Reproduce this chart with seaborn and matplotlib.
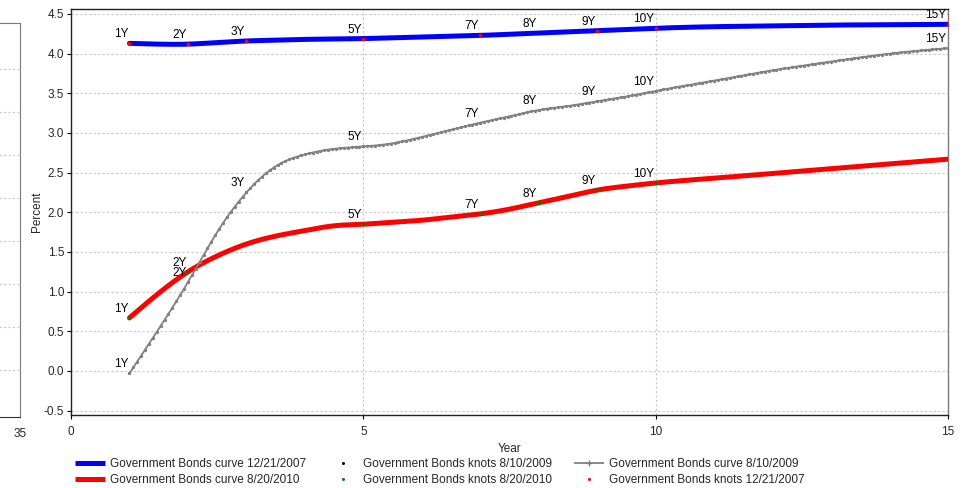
import numpy as np
import pandas as pd
import matplotlib
matplotlib.use("Agg")
import matplotlib.pyplot as plt
from matplotlib.lines import Line2D
import seaborn as sns

# ---- knot data (tenor in years, rate in percent) ----
knot_tenors_2007 = [1, 2, 3, 5, 7, 9, 10, 15]
knot_rates_2007 = [4.13, 4.12, 4.16, 4.19, 4.23, 4.29, 4.32, 4.37]
label_tenors_2007 = [1, 2, 3, 5, 7, 8, 9, 10, 15]
label_rates_2007 = [4.13, 4.12, 4.16, 4.19, 4.23, 4.26, 4.29, 4.32, 4.37]

knot_tenors_2009 = [1, 2, 3, 5, 7, 8, 9, 10, 15]
knot_rates_2009 = [-0.03, 1.12, 2.25, 2.83, 3.13, 3.29, 3.40, 3.53, 4.07]

knot_tenors_2010 = [1, 2, 5, 7, 8, 9, 10]
knot_rates_2010 = [0.67, 1.25, 1.85, 1.98, 2.12, 2.28, 2.37]

# ---- fitted curves sampled along the tenor axis ----
curve_years = [1, 1.5, 2, 2.5, 3, 3.5, 4, 4.5, 5, 5.5, 6, 6.5, 7, 7.5, 8,
               8.5, 9, 9.5, 10, 11, 12, 13, 14, 15]
curve_2007 = [4.13, 4.12, 4.12, 4.14, 4.16, 4.17, 4.18, 4.185, 4.19, 4.20,
              4.21, 4.22, 4.23, 4.245, 4.26, 4.275, 4.29, 4.305, 4.32, 4.34,
              4.35, 4.36, 4.365, 4.37]
curve_2009 = [-0.03, 0.53, 1.12, 1.75, 2.25, 2.58, 2.73, 2.80, 2.83, 2.87,
              2.95, 3.04, 3.13, 3.21, 3.29, 3.34, 3.40, 3.46, 3.53, 3.66,
              3.79, 3.90, 4.00, 4.07]
curve_2010 = [0.67, 0.98, 1.25, 1.45, 1.60, 1.70, 1.77, 1.83, 1.85, 1.875,
              1.90, 1.94, 1.98, 2.04, 2.12, 2.20, 2.28, 2.33, 2.37, 2.43,
              2.49, 2.55, 2.61, 2.67]

y_ticks = [-0.5, 0.0, 0.5, 1.0, 1.5, 2.0, 2.5, 3.0, 3.5, 4.0, 4.5]
x_ticks = [0, 5, 10, 15]


def natural_spline(x, y, xs):
    """Smooth natural cubic spline through (x, y), evaluated at xs."""
    x = np.asarray(x, float)
    y = np.asarray(y, float)
    n = len(x)
    h = np.diff(x)
    A = np.zeros((n, n))
    b = np.zeros(n)
    A[0, 0] = A[-1, -1] = 1.0
    for i in range(1, n - 1):
        A[i, i - 1] = h[i - 1]
        A[i, i] = 2 * (h[i - 1] + h[i])
        A[i, i + 1] = h[i]
        b[i] = 6 * ((y[i + 1] - y[i]) / h[i] - (y[i] - y[i - 1]) / h[i - 1])
    m = np.linalg.solve(A, b)
    idx = np.clip(np.searchsorted(x, xs) - 1, 0, n - 2)
    x0, x1 = x[idx], x[idx + 1]
    hh = x1 - x0
    t0, t1 = x1 - xs, xs - x0
    return (m[idx] * t0 ** 3 / (6 * hh) + m[idx + 1] * t1 ** 3 / (6 * hh)
            + (y[idx] / hh - m[idx] * hh / 6) * t0
            + (y[idx + 1] / hh - m[idx + 1] * hh / 6) * t1)


sns.set_style("white")
plt.rcParams["font.family"] = ["Liberation Sans", "DejaVu Sans"]
plt.rcParams["font.size"] = 8.5

fig = plt.figure(figsize=(9.65, 4.88), dpi=100)

# partial neighbouring panel on the far left
ax_side = fig.add_axes([-0.12, 0.1455, 0.1407, 0.8074])
ax_side.set_xlim(0, 35)
ax_side.set_ylim(0, 1)
ax_side.set_xticks([35])
ax_side.set_xticklabels(["35"])
ax_side.set_yticks(np.linspace(0.119, 0.882, 8))
ax_side.set_yticklabels([])
ax_side.tick_params(axis="y", length=0)
ax_side.tick_params(axis="x", length=3, width=0.8, color="#404040", pad=5,
                    labelsize=8.5)
ax_side.grid(axis="y", color="#c8c8c8", linestyle=(0, (2, 2)), linewidth=0.8)
for side in ("top", "right"):
    ax_side.spines[side].set_color("#7a7a7a")
ax_side.spines["bottom"].set_color("#303030")
ax_side.spines["left"].set_visible(False)

# main curve panel
ax = fig.add_axes([71 / 965, 1 - 415 / 488, 877 / 965, 406 / 488])

dense = np.linspace(1, 15, 600)
marker_grid = np.arange(1, 15.0001, 1 / 15)

df_2007 = pd.DataFrame({"Year": dense,
                        "Percent": natural_spline(curve_years, curve_2007, dense)})
df_2010 = pd.DataFrame({"Year": dense,
                        "Percent": natural_spline(curve_years, curve_2010, dense)})
df_2009 = pd.DataFrame({"Year": marker_grid,
                        "Percent": natural_spline(curve_years, curve_2009, marker_grid)})

sns.lineplot(data=df_2010, x="Year", y="Percent", ax=ax, color="#ff0000",
             linewidth=3.6, zorder=3)
# 8/10/2009 knots sit beneath the beaded curve
sns.scatterplot(x=knot_tenors_2009, y=knot_rates_2009, ax=ax, color="black",
                s=4, linewidth=0, zorder=3.5)
sns.lineplot(data=df_2009, x="Year", y="Percent", ax=ax, color="#808080",
             linewidth=1.3, marker="o", markersize=2.4, markeredgewidth=0,
             zorder=4)
sns.lineplot(data=df_2007, x="Year", y="Percent", ax=ax, color="#0000ff",
             linewidth=3.6, zorder=3)

# knot markers
sns.scatterplot(x=knot_tenors_2010, y=knot_rates_2010, ax=ax, color="#008000",
                s=7, linewidth=0, zorder=5)
sns.scatterplot(x=knot_tenors_2007, y=knot_rates_2007, ax=ax, color="#ff0000",
                s=7, linewidth=0, zorder=5)

# tenor labels
for tenors, rates in ((label_tenors_2007, label_rates_2007),
                      (knot_tenors_2009, knot_rates_2009),
                      (knot_tenors_2010, knot_rates_2010)):
    for t, r in zip(tenors, rates):
        ax.annotate(f"{t}Y", (t, r), xytext=(-1.0, 2.2),
                    textcoords="offset points", ha="right", va="bottom",
                    fontsize=8.5, color="black", zorder=6)

ax.set_xlim(0, 15)
ax.set_ylim(-0.555, 4.563)
ax.set_xticks(x_ticks)
ax.set_xticklabels([str(v) for v in x_ticks])
ax.set_yticks(y_ticks)
ax.set_yticklabels([f"{v:.1f}" for v in y_ticks])
ax.tick_params(axis="both", length=3, width=0.8, color="black",
               labelsize=8.5, direction="out", bottom=True, left=True)
ax.tick_params(axis="y", pad=2)
ax.tick_params(axis="x", pad=5)
ax.grid(True, color="#c8c8c8", linestyle=(0, (2, 2)), linewidth=0.8)
ax.set_axisbelow(True)
for side in ("left", "bottom", "top"):
    ax.spines[side].set_color("#202020")
    ax.spines[side].set_linewidth(1.0)
ax.spines["right"].set_color("#7a7a7a")
ax.spines["right"].set_linewidth(1.0)

ax.set_xlabel("Year", fontsize=8.5)
ax.set_ylabel("Percent", fontsize=8.5)
ax.xaxis.set_label_coords(0.5, -0.069)
ax.yaxis.set_label_coords(-0.0316, 0.5)

handles = [
    Line2D([], [], color="#0000ff", linewidth=3.6, solid_capstyle="butt"),
    Line2D([], [], color="#ff0000", linewidth=3.6, solid_capstyle="butt"),
    Line2D([], [], linestyle="none", marker="o", markersize=2.2,
           markeredgewidth=0, color="black"),
    Line2D([], [], linestyle="none", marker="o", markersize=2.2,
           markeredgewidth=0, color="#008000"),
    Line2D([], [], color="#808080", linewidth=1.3, marker="+",
           markersize=4, markeredgewidth=1.0, solid_capstyle="butt"),
    Line2D([], [], linestyle="none", marker="o", markersize=2.2,
           markeredgewidth=0, color="#ff0000"),
]
labels = [
    "Government Bonds curve 12/21/2007",
    "Government Bonds curve 8/20/2010",
    "Government Bonds knots 8/10/2009",
    "Government Bonds knots 8/20/2010",
    "Government Bonds curve 8/10/2009",
    "Government Bonds knots 12/21/2007",
]
fig.legend(handles, labels, ncol=3, loc="upper left",
           bbox_to_anchor=(75 / 965, 1 - 458 / 488), frameon=False,
           fontsize=8.5, handlelength=2.55, handletextpad=0.42,
           columnspacing=1.85, labelspacing=0.35, numpoints=1,
           borderaxespad=0, borderpad=0)

fig.savefig("out.png", dpi=100)
